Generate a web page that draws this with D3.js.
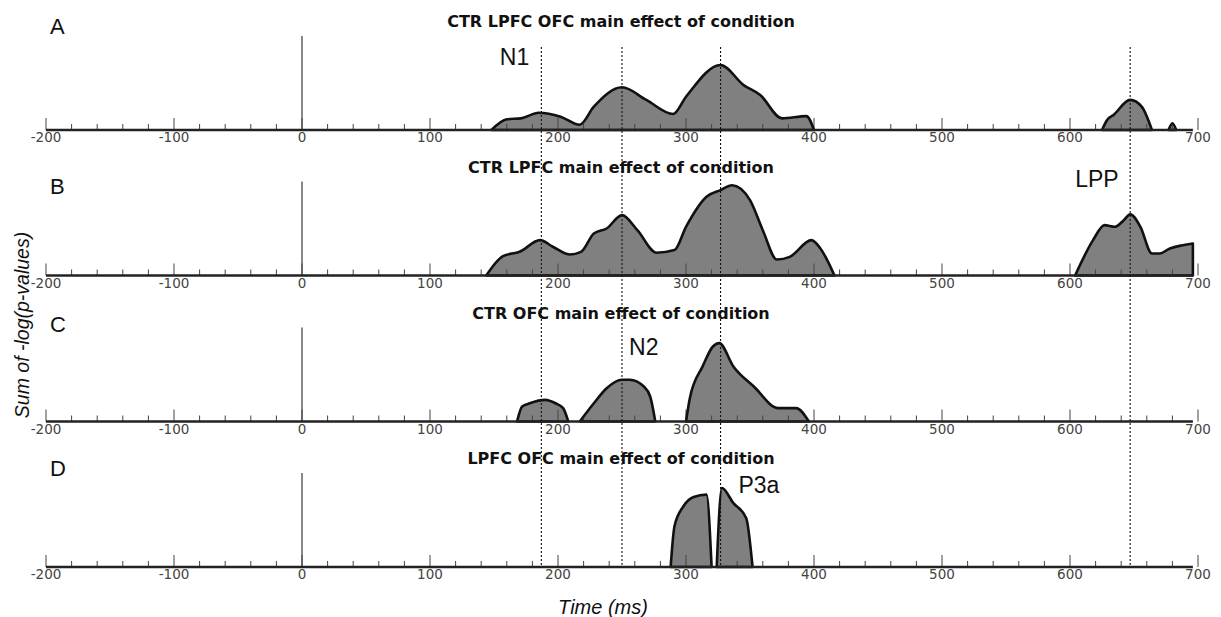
<!DOCTYPE html>
<html>
<head>
<meta charset="utf-8">
<script src="https://cdn.jsdelivr.net/npm/d3@7/dist/d3.min.js"></script>
<style>
  html, body { margin: 0; padding: 0; background: #fff; }
  svg { display: block; }
</style>
</head>
<body>
<svg id="chart" width="1221" height="617"></svg>
<script>
// Time axis (ms) and tick labels
const timeDomain = [-200, 700];
const timeTicks = [-200, -100, 0, 100, 200, 300, 400, 500, 600, 700];
const minorStep = 20;
const dataEnd = 696;

// Panel letters and titles
const panelLetters = ["A", "B", "C", "D"];
const panelTitles = [
  "CTR LPFC OFC main effect of condition",
  "CTR LPFC main effect of condition",
  "CTR OFC main effect of condition",
  "LPFC OFC main effect of condition"
];

// Latencies of the marked ERP components (dotted lines)
const componentTimes = [187, 250, 327, 647];

// Component annotations: panel index, time, height
const componentNames = ["N1", "LPP", "N2", "P3a"];
const componentPanel = [0, 1, 2, 3];
const componentAt = [166, 621, 267, 357];
const componentHeight = [39, 51.3, 39.7, 43.6];

// Significant segments: sum of -log(p-values) over time, one list per panel
const ctrLpfcOfcTimes = [
  [148, 160, 171, 185, 202, 217, 228, 250, 269, 290, 300, 327, 345, 358, 375, 394, 400],
  [625, 629, 634, 647, 656, 664],
  [677, 680, 683]
];
const ctrLpfcOfcValues = [
  [0, 5.7, 6.2, 9.2, 7.1, 2.8, 12.4, 22.7, 16.0, 8.5, 17.7, 34.6, 23.9, 18.6, 6.2, 7.4, 0],
  [0, 5.3, 8.0, 16.0, 12.4, 0],
  [0, 3.6, 0]
];

const ctrLpfcTimes = [
  [144, 157, 170, 186, 196, 209, 218, 228, 238, 250, 262, 277, 291, 300, 316, 327, 336, 350, 360, 371, 381, 398, 405, 416],
  [604, 618, 627, 635, 642, 647, 655, 664, 670, 678, 688, 696]
];
const ctrLpfcValues = [
  [0, 10.3, 12.6, 18.8, 15.3, 11.2, 12.6, 22.3, 25.0, 32.1, 24.1, 12.1, 13.5, 25.9, 41.9, 45.4, 48.0, 40.1, 24.1, 8.5, 9.9, 18.8, 14.4, 0],
  [0, 18.8, 26.8, 25.9, 29.4, 32.6, 25.9, 11.7, 11.7, 14.4, 16.1, 17.0]
];

const ctrOfcTimes = [
  [168, 172, 178, 190, 198, 204, 208],
  [217, 228, 238, 250, 256, 267, 272, 276],
  [300, 303, 313, 321, 326, 337, 353, 372, 386, 396]
];
const ctrOfcValues = [
  [0, 8.0, 9.7, 11.5, 9.7, 7.1, 0],
  [0, 9.7, 17.7, 22.2, 22.2, 18.6, 13.3, 0],
  [0, 12.4, 29.3, 39.9, 41.7, 29.3, 18.6, 7.1, 7.1, 0]
];

const lpfcOfcTimes = [
  [288, 291, 298, 306, 316, 320],
  [324, 328, 337, 347, 352]
];
const lpfcOfcValues = [
  [0, 21.7, 32.3, 37.2, 38.5, 0],
  [0, 42.0, 34.0, 26.1, 0]
];

const panelTimes = [ctrLpfcOfcTimes, ctrLpfcTimes, ctrOfcTimes, lpfcOfcTimes];
const panelValues = [ctrLpfcOfcValues, ctrLpfcValues, ctrOfcValues, lpfcOfcValues];
const valueDomain = [0, 50];

// ---- layout ----
const svg = d3.select("#chart");
const x = d3.scaleLinear().domain(timeDomain).range([46, 1198]);
const baselines = [130, 275.5, 421.5, 567];
const letterY = [34, 194, 332, 476];
const panelHeight = 94;

const ys = baselines.map(b => d3.scaleLinear().domain(valueDomain).range([b, b - panelHeight]));

const minorTicks = d3.range(timeDomain[0], timeDomain[1] + 1, minorStep);

baselines.forEach((base, i) => {
  const y = ys[i];
  const g = svg.append("g");

  // stimulus onset line
  g.append("line")
    .attr("x1", x(0)).attr("x2", x(0))
    .attr("y1", y(valueDomain[1])).attr("y2", y(0))
    .attr("stroke", "#6a6a6a").attr("stroke-width", 1.6);

  const area = d3.area()
    .x(d => x(d[0])).y0(y(0)).y1(d => y(d[1]))
    .curve(d3.curveMonotoneX);

  const segs = panelTimes[i].map((ts, k) => ts.map((t, j) => [t, panelValues[i][k][j]]));

  // significant segments (fill)
  g.selectAll("path.fill").data(segs).join("path")
    .attr("class", "fill")
    .attr("d", area)
    .attr("fill", "#808080");

  // axis ticks every 20 ms, taller at 100 ms
  g.selectAll("line.tick").data(minorTicks).join("line")
    .attr("class", "tick")
    .attr("x1", d => x(d)).attr("x2", d => x(d))
    .attr("y1", base).attr("y2", d => base - (d % 100 === 0 ? 12 : 6))
    .attr("stroke", "#444").attr("stroke-width", 1);

  // outline of segments
  g.selectAll("path.edge").data(segs).join("path")
    .attr("class", "edge")
    .attr("d", area)
    .attr("fill", "none")
    .attr("stroke", "#111").attr("stroke-width", 2.6)
    .attr("stroke-linejoin", "round");

  // baseline
  g.append("line")
    .attr("x1", x(timeDomain[0])).attr("x2", x(dataEnd))
    .attr("y1", base).attr("y2", base)
    .attr("stroke", "#222").attr("stroke-width", 2.4);

  // tick labels
  g.selectAll("text.tl").data(timeTicks).join("text")
    .attr("class", "tl")
    .attr("x", d => x(d)).attr("y", base + 12)
    .attr("text-anchor", "middle")
    .attr("font-family", "DejaVu Sans")
    .attr("font-size", 13.5)
    .attr("fill", "#444")
    .text(d => d);

  // panel title
  g.append("text")
    .attr("x", 621).attr("y", base - 103)
    .attr("text-anchor", "middle")
    .attr("font-family", "DejaVu Sans")
    .attr("font-weight", "bold")
    .attr("font-size", 16)
    .attr("fill", "#111")
    .text(panelTitles[i]);

  // panel letter
  g.append("text")
    .attr("x", 50).attr("y", letterY[i])
    .attr("font-family", "Liberation Sans")
    .attr("font-size", 22)
    .attr("fill", "#111")
    .text(panelLetters[i]);
});

// dotted component latency markers spanning all panels
svg.append("g").selectAll("line").data(componentTimes).join("line")
  .attr("x1", d => x(d)).attr("x2", d => x(d))
  .attr("y1", 47).attr("y2", baselines[3])
  .attr("stroke", "#111").attr("stroke-width", 1.1)
  .attr("stroke-dasharray", "2,2");

// component names
svg.append("g").selectAll("text").data(componentNames).join("text")
  .attr("x", (d, i) => x(componentAt[i]))
  .attr("y", (d, i) => ys[componentPanel[i]](componentHeight[i]))
  .attr("dy", "0.36em")
  .attr("text-anchor", "middle")
  .attr("font-family", "Liberation Sans")
  .attr("font-size", 23)
  .attr("fill", "#111")
  .text(d => d);

// axis titles
svg.append("text")
  .attr("x", 603).attr("y", 614)
  .attr("text-anchor", "middle")
  .attr("font-family", "Liberation Sans")
  .attr("font-style", "italic")
  .attr("font-size", 20)
  .attr("fill", "#111")
  .text("Time (ms)");

svg.append("text")
  .attr("transform", "translate(29,325) rotate(-90)")
  .attr("text-anchor", "middle")
  .attr("font-family", "Liberation Sans")
  .attr("font-style", "italic")
  .attr("font-size", 19.5)
  .attr("fill", "#111")
  .text("Sum of -log(p-values)");
</script>
</body>
</html>
